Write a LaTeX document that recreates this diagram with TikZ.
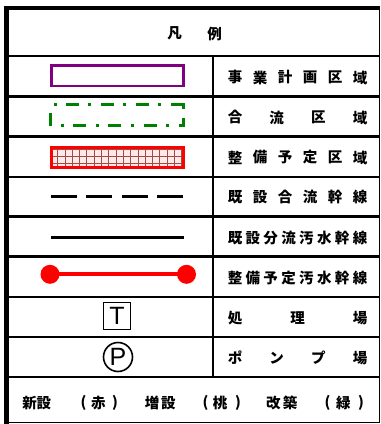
\documentclass[tikz,border=0pt]{standalone}
\usepackage{fontspec}
\setmainfont{Liberation Sans}
\newfontfamily\jp{Noto Sans CJK JP}
\definecolor{lpurple}{RGB}{128,0,128}
\definecolor{lgreen}{RGB}{0,128,0}
\definecolor{gridred}{RGB}{160,75,70}
\newcommand\distrib[4]{%
  \foreach \c [count=\i from 0] in {#4} {\node[jt] (#1-\i) at ({235+\i*125/#3},#2) {\c};}}
\newcommand\lpar{(}
\newcommand\rpar{)}
\begin{document}
\begin{tikzpicture}[x=1pt,y=-1pt,
  jt/.style={inner sep=0pt, font=\jp\bfseries\fontsize{14.5}{14.5}\selectfont},
  frame/.style={line width=2.5pt, black},
  gridln/.style={line width=1pt, gridred},
  grn/.style={line width=2.7pt, lgreen, line cap=butt},
  symfont/.style={font=\fontsize{25}{25}\selectfont}]
\useasboundingbox (0,0) rectangle (381,424);
% frame
\draw[line width=3.5pt] (4,8) -- (380,8);
\draw[line width=5pt] (6.5,6.25) -- (6.5,424);
\draw[line width=1.5pt] (379.3,6.25) -- (379.3,423.3);
\draw[line width=1.8pt] (4,422.5) -- (380,422.5);
\foreach \yy in {56,96.5,136.5,177,216.5,256.5,297,337,377}
  \draw[frame] (6.5,\yy) -- (379.3,\yy);
\draw[line width=2pt] (213,56) -- (213,377);
% header
\node[jt] (h1) at (174.5,33.5) {凡};
\node[jt] (h2) at (214.5,33.5) {例};
% right column texts
\distrib{r1}{77.5}{5}{事,業,計,画,区,域}
\distrib{r2}{117.5}{3}{合,流,区,域}
\distrib{r3}{157.5}{5}{整,備,予,定,区,域}
\distrib{r4}{197}{5}{既,設,合,流,幹,線}
\distrib{r5}{238}{7}{既,設,分,流,汚,水,幹,線}
\distrib{r6}{278}{7}{整,備,予,定,汚,水,幹,線}
\distrib{r7}{318}{2}{処,理,場}
\distrib{r8}{358}{3}{ポ,ン,プ,場}
% symbol 1: purple rectangle
\draw[line width=2.7pt, lpurple] (51.3,65.6) rectangle (183.7,86);
% symbol 2: green dash-dot
\foreach \a/\b in {54/57,66/79,88/91,101/114,123/126,136/149,158/161}
  \draw[grn] (\a,104.7) -- (\b,104.7);
\draw[grn] (171,104.7) -- (183.7,104.7) -- (183.7,108.5);
\draw[grn] (50.3,112.7) -- (50.3,125.7);
\foreach \a/\b in {61/64,73/86,96/99,108/121,131/134,144/157,166/169}
  \draw[grn] (\a,125.7) -- (\b,125.7);
\draw[grn] (179,125.7) -- (183.7,125.7) -- (183.7,118);
% symbol 3: red hatched rectangle
\fill[red!9] (51.5,147.2) rectangle (183.5,167.8);
\begin{scope}
  \clip (51.5,147.2) rectangle (183.5,167.8);
  \foreach \xx in {0,...,17} \draw[gridln] ({57.7+\xx*7.3},140) -- ++(0,35);
  \foreach \yy in {149.6,156.2,163.4} \draw[gridln] (40,\yy) -- (200,\yy);
\end{scope}
\draw[line width=3pt, red] (51.5,147.2) rectangle (183.5,167.8);
% symbol 4: dashed black line
\draw[line width=3.2pt, dash pattern=on 25.7pt off 9.7pt] (51,196.7) -- (182.7,196.7);
% symbol 5: solid line
\draw[line width=3pt] (51,237.7) -- (184,237.7);
% symbol 6: red line with dots
\node[circle, fill=red, minimum size=19pt, inner sep=0pt] (d1) at (50,274.3) {};
\node[circle, fill=red, minimum size=19pt, inner sep=0pt] (d2) at (186.5,274.3) {};
\draw[line width=4pt, red] (d1.center) -- (d2.center);
% symbol 7: T box
\node[draw, line width=1.8pt, minimum size=27pt, inner sep=0pt, symfont] (tb) at (117,316) {T};
% symbol 8: P circle
\node[draw, circle, line width=1.6pt, minimum size=29pt, inner sep=0pt, symfont] (pc) at (118,357) {P};
% bottom row
\foreach \xx/\c [count=\i] in {29.7/新,44/設,83.5/\lpar,98.3/赤,115/\rpar,152/増,168.3/設,205.5/\lpar,220/桃,238/\rpar,273.3/改,290/築,327.5/\lpar,343.3/緑,361/\rpar}
  \node[jt] (b\i) at (\xx,402.7) {\c};
\end{tikzpicture}
\end{document}
